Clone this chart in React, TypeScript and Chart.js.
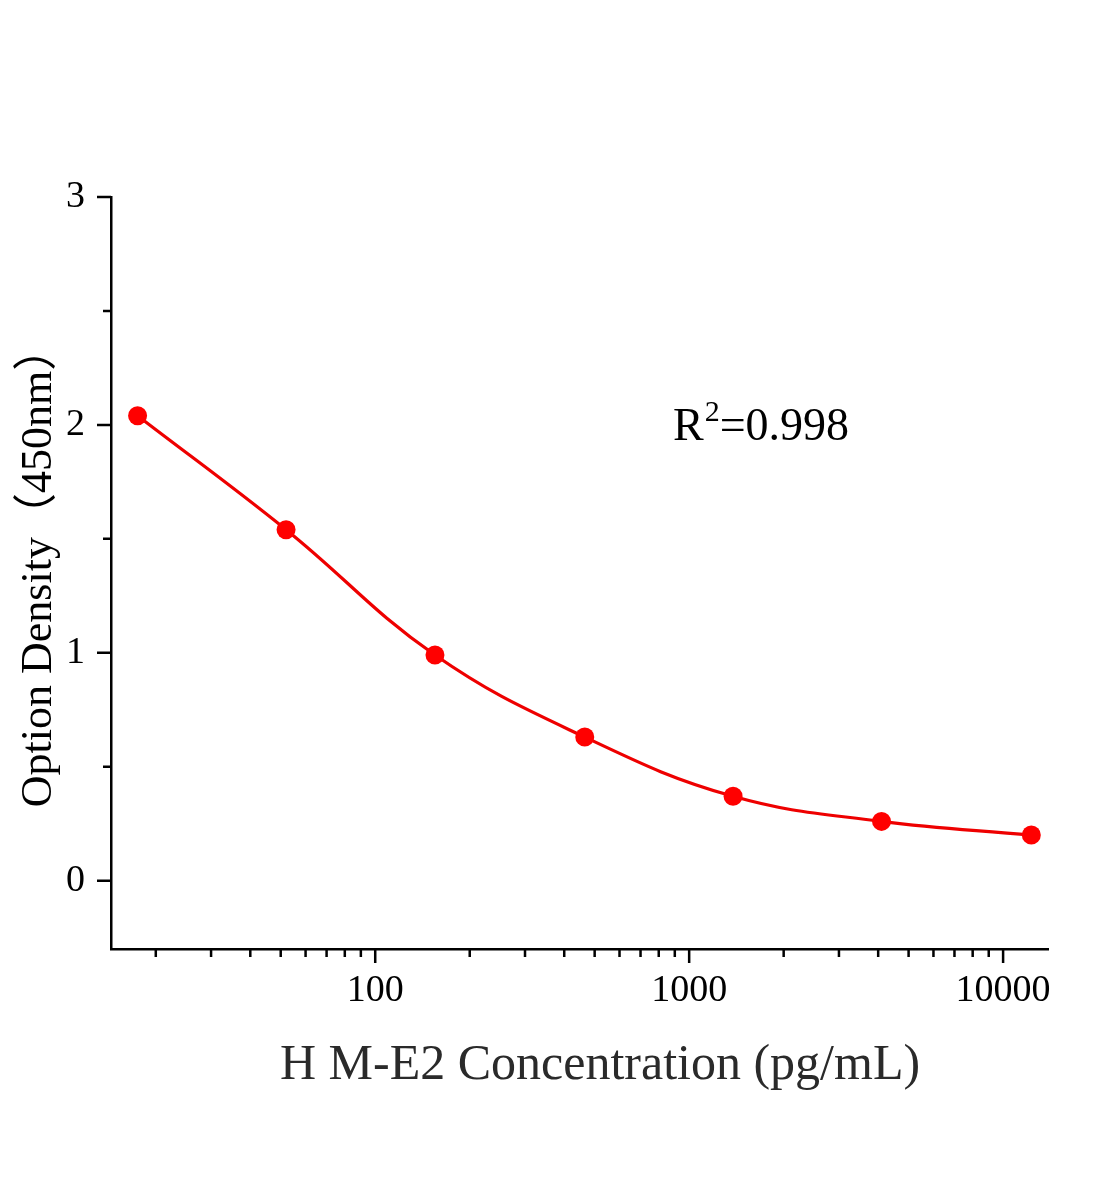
import React, { useEffect, useRef } from "react";
import { Chart, registerables } from "chart.js";

Chart.register(...registerables);

// ---- data ----
const concentrations = [17.5, 52, 155, 465, 1380, 4100, 12300];
const odValues = [2.04, 1.54, 0.99, 0.63, 0.37, 0.26, 0.2];

// ---- ticks ----
const xMajorTicks = [100, 1000, 10000];
const xMinorTicks = [
  20, 30, 40, 50, 60, 70, 80, 90,
  200, 300, 400, 500, 600, 700, 800, 900,
  2000, 3000, 4000, 5000, 6000, 7000, 8000, 9000,
];
const yMajorTicks = [0, 1, 2, 3];
const yMinorTicks = [0.5, 1.5, 2.5];

// ---- text ----
const xTitle = "H M-E2 Concentration (pg/mL)";
const yTitle = "Option Density（450nm）";
const rLetter = "R";
const rSup = "2";
const rValue = "=0.998";

const SERIF = '"Liberation Serif", "Times New Roman", "Noto Sans CJK SC", serif';

const decorPlugin = {
  id: "decor",
  afterDraw(chart: any) {
    const ctx = chart.ctx as CanvasRenderingContext2D;
    const xs = chart.scales.x;
    const ys = chart.scales.y;
    const { left, bottom } = chart.chartArea;
    ctx.save();
    ctx.strokeStyle = "#000";
    ctx.lineWidth = 2.5;
    ctx.lineCap = "butt";
    ctx.beginPath();
    for (const v of yMajorTicks) {
      const py = ys.getPixelForValue(v);
      ctx.moveTo(left - 14, py);
      ctx.lineTo(left, py);
    }
    for (const v of yMinorTicks) {
      const py = ys.getPixelForValue(v);
      ctx.moveTo(left - 8, py);
      ctx.lineTo(left, py);
    }
    for (const v of xMajorTicks) {
      const px = xs.getPixelForValue(v);
      ctx.moveTo(px, bottom);
      ctx.lineTo(px, bottom + 14);
    }
    for (const v of xMinorTicks) {
      const px = xs.getPixelForValue(v);
      ctx.moveTo(px, bottom);
      ctx.lineTo(px, bottom + 8);
    }
    ctx.stroke();

    // x title
    ctx.fillStyle = "#2a2a2a";
    ctx.font = `50px ${SERIF}`;
    ctx.textAlign = "center";
    ctx.textBaseline = "alphabetic";
    ctx.fillText(xTitle, 600, 1079);

    // y title
    ctx.save();
    ctx.translate(51, 567);
    ctx.rotate(-Math.PI / 2);
    ctx.fillStyle = "#000";
    ctx.font = `44px ${SERIF}`;
    ctx.textAlign = "center";
    ctx.fillText(yTitle, 0, 0);
    ctx.restore();

    // R^2 annotation
    ctx.fillStyle = "#000";
    ctx.textAlign = "left";
    let tx = 673;
    const ty = 440;
    ctx.font = `46px ${SERIF}`;
    ctx.fillText(rLetter, tx, ty);
    tx += ctx.measureText(rLetter).width + 1;
    ctx.font = `30px ${SERIF}`;
    ctx.fillText(rSup, tx, ty - 19);
    tx += ctx.measureText(rSup).width;
    ctx.font = `46px ${SERIF}`;
    ctx.fillText(rValue, tx, ty);
    ctx.restore();
  },
};

export default function App() {
  const canvasRef = useRef<HTMLCanvasElement | null>(null);

  useEffect(() => {
    if (!canvasRef.current) return;
    const chart = new Chart(canvasRef.current, {
      type: "line",
      data: {
        datasets: [
          {
            data: concentrations.map((c, i) => ({ x: c, y: odValues[i] })),
            borderColor: "#ee0000",
            borderWidth: 3.2,
            backgroundColor: "#ff0000",
            pointBackgroundColor: "#ff0000",
            pointBorderWidth: 0,
            pointRadius: 9.5,
            tension: 0.4,
            fill: false,
            clip: false as any,
          },
        ],
      },
      options: {
        animation: false,
        responsive: false,
        devicePixelRatio: 1,
        layout: { padding: { top: 197, right: 56, left: 0, bottom: 0 } },
        plugins: { legend: { display: false }, tooltip: { enabled: false } },
        scales: {
          x: {
            type: "logarithmic",
            min: 14.4,
            max: 13900,
            grid: { display: false, drawTicks: false },
            border: { display: true, color: "#000", width: 2.5 },
            ticks: {
              color: "#000",
              font: { family: SERIF, size: 38 },
              padding: 19,
              maxRotation: 0,
              autoSkip: false,
              callback: (v: any) => String(v),
            },
            afterBuildTicks: (s: any) => {
              s.ticks = xMajorTicks.map((v) => ({ value: v }));
            },
            afterFit: (s: any) => {
              s.height = 251;
            },
          },
          y: {
            type: "linear",
            min: -0.3,
            max: 3,
            grid: { display: false, drawTicks: false },
            border: { display: true, color: "#000", width: 2.5 },
            ticks: {
              color: "#000",
              font: { family: SERIF, size: 38 },
              padding: 26,
              callback: (v: any) => String(v),
            },
            afterBuildTicks: (s: any) => {
              s.ticks = yMajorTicks.map((v) => ({ value: v }));
            },
            afterFit: (s: any) => {
              s.width = 111;
            },
          },
        },
      },
      plugins: [decorPlugin],
    });
    return () => chart.destroy();
  }, []);

  return (
    <div style={{ position: "absolute", left: 0, top: 0, width: 1104, height: 1200, background: "#fff" }}>
      <canvas ref={canvasRef} width={1104} height={1200} style={{ display: "block" }} />
    </div>
  );
}
